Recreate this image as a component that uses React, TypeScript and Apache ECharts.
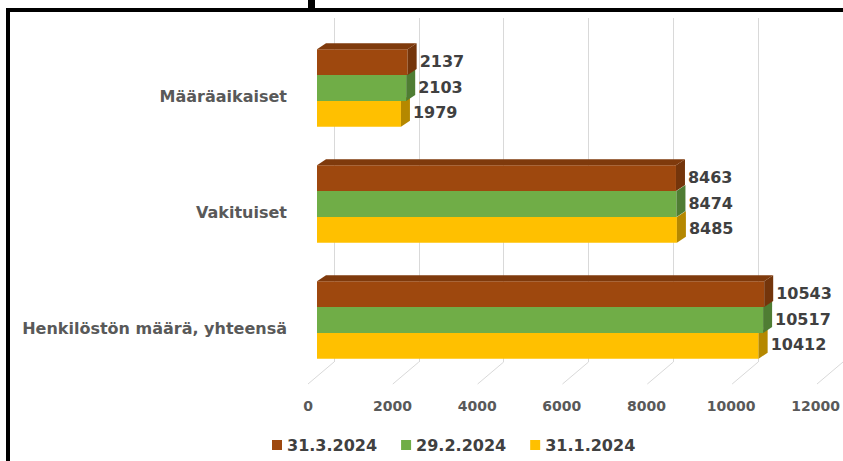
import React, { useEffect, useRef } from "react";
import * as echarts from "echarts";

const categories = ["Henkilöstön määrä, yhteensä", "Vakituiset", "Määräaikaiset"];
const seriesNames = ["31.3.2024", "29.2.2024", "31.1.2024"];
const march = [10543, 8463, 2137];
const february = [10517, 8474, 2103];
const january = [10412, 8485, 1979];
const axisTicks = [0, 2000, 4000, 6000, 8000, 10000, 12000];

const FONT = '"DejaVu Sans", "Liberation Sans", sans-serif';
const frontColors = ["#9e480e", "#70ad47", "#ffc000"];
const sideColors = ["#74350b", "#4f7d33", "#b58800"];
const topColor = "#7f3a0c";
const DX = 9;
const DY = -6;

function makeBarSeries(name: string, values: number[], idx: number) {
  return {
    type: "custom",
    name,
    xAxisIndex: 0,
    yAxisIndex: 0,
    itemStyle: { color: frontColors[idx] },
    encode: { x: 1, y: 0 },
    data: values.map((v, i) => [i, v]),
    z: 10 - idx,
    renderItem: (params: any, api: any) => {
      const cat = api.value(0);
      const val = api.value(1);
      const start = api.coord([0, cat]);
      const end = api.coord([val, cat]);
      const band = api.size([0, 1])[1];
      const h = band * 0.222;
      const yc = start[1] + (idx - 1) * h;
      const y0 = yc - h / 2;
      const y1 = yc + h / 2;
      const x0 = start[0];
      const x1 = end[0];
      const children: any[] = [
        {
          type: "rect",
          shape: { x: x0, y: y0, width: x1 - x0, height: h },
          style: { fill: frontColors[idx] },
        },
        {
          type: "polygon",
          shape: {
            points: [
              [x1, y0],
              [x1 + DX, y0 + DY],
              [x1 + DX, y1 + DY],
              [x1, y1],
            ],
          },
          style: { fill: sideColors[idx] },
        },
      ];
      if (idx === 0) {
        children.push({
          type: "polygon",
          shape: {
            points: [
              [x0, y0],
              [x0 + DX, y0 + DY],
              [x1 + DX, y0 + DY],
              [x1, y0],
            ],
          },
          style: { fill: topColor },
        });
      }
      children.push({
        type: "text",
        style: {
          text: String(val),
          x: x1 + DX + 3,
          y: yc - 1,
          fill: "#404040",
          font: `bold 16px ${FONT}`,
          align: "left",
          verticalAlign: "middle",
        },
      });
      return { type: "group", children };
    },
  };
}

export default function App() {
  const ref = useRef<HTMLDivElement>(null);
  useEffect(() => {
    if (!ref.current) return;
    const chart = echarts.init(ref.current, undefined, { renderer: "svg" });
    const option: any = {
      animation: false,
      backgroundColor: "#ffffff",
      grid: [
        { left: 317, top: 30, width: 509, height: 348 },
        { left: 334, top: 18, width: 510, height: 344 },
        { left: 308, top: 300, width: 510, height: 84 },
      ],
      xAxis: [
        {
          gridIndex: 0,
          type: "value",
          min: 0,
          max: 12000,
          interval: 2000,
          show: false,
        },
        {
          gridIndex: 1,
          type: "value",
          min: 0,
          max: 12000,
          interval: 2000,
          axisLine: { show: false },
          axisTick: { show: false },
          axisLabel: { show: false },
          splitLine: { show: true, lineStyle: { color: "#d9d9d9", width: 1 } },
        },
        {
          gridIndex: 2,
          type: "value",
          min: 0,
          max: 12000,
          interval: 2000,
          axisLine: { show: false },
          axisTick: { show: false },
          splitLine: { show: false },
          axisLabel: {
            margin: 15,
            color: "#595959",
            fontFamily: FONT,
            fontWeight: "bold",
            fontSize: 14,
            formatter: (v: number) => String(v),
          },
        },
      ],
      yAxis: [
        {
          gridIndex: 0,
          type: "category",
          data: categories,
          axisLine: { show: false },
          axisTick: { show: false },
          splitLine: { show: false },
          axisLabel: {
            margin: 30,
            color: "#595959",
            fontFamily: FONT,
            fontWeight: "bold",
            fontSize: 16,
            verticalAlign: "top",
          },
        },
        { gridIndex: 1, type: "value", min: 0, max: 1, show: false },
        { gridIndex: 2, type: "value", min: 0, max: 1, show: false },
      ],
      legend: {
        data: seriesNames,
        left: 267,
        top: 432,
        icon: "rect",
        itemWidth: 10,
        itemHeight: 10,
        itemGap: 24,
        textStyle: {
          fontFamily: FONT,
          fontWeight: "bold",
          fontSize: 16,
          color: "#404040",
        },
      },
      graphic: [
        {
          type: "rect",
          shape: { x: 8, y: 10, width: 900, height: 600 },
          style: { fill: "none", stroke: "#000000", lineWidth: 4 },
          z: 100,
          silent: true,
        },
        {
          type: "rect",
          shape: { x: 308, y: 0, width: 7, height: 9 },
          style: { fill: "#000000" },
          z: 100,
          silent: true,
        },
      ],
      series: [
        {
          type: "custom",
          name: "floor",
          xAxisIndex: 1,
          yAxisIndex: 1,
          silent: true,
          data: axisTicks.map((t) => [t, 0]),
          z: 1,
          renderItem: (params: any, api: any) => {
            const p = api.coord([api.value(0), 0]);
            return {
              type: "line",
              shape: { x1: p[0], y1: p[1], x2: p[0] - 26, y2: p[1] + 22 },
              style: { stroke: "#d9d9d9", lineWidth: 1 },
            };
          },
        },
        makeBarSeries(seriesNames[0], march, 0),
        makeBarSeries(seriesNames[1], february, 1),
        makeBarSeries(seriesNames[2], january, 2),
      ],
    };
    chart.setOption(option);
    return () => chart.dispose();
  }, []);
  return (
    <div
      ref={ref}
      style={{ position: "absolute", left: 0, top: 0, width: 843, height: 461 }}
    />
  );
}
